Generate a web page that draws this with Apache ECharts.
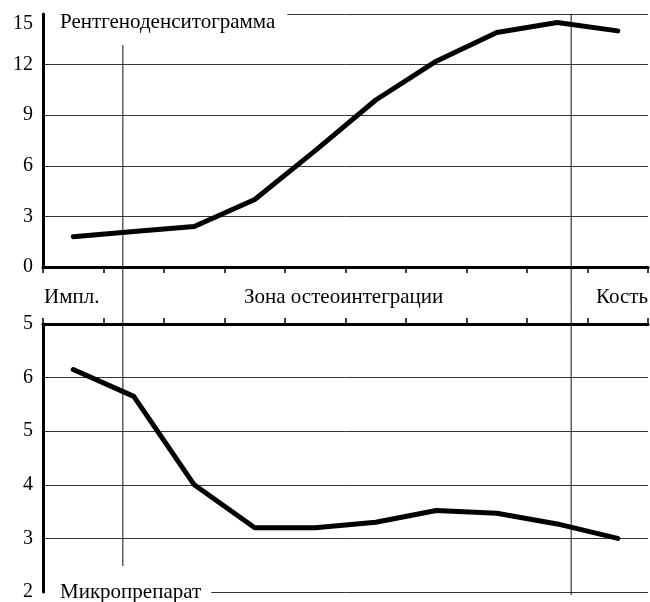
<!DOCTYPE html>
<html><head><meta charset="utf-8">
<script src="https://cdn.jsdelivr.net/npm/echarts@6/dist/echarts.min.js"></script>
<style>html,body{margin:0;padding:0;background:#fff}#c{width:650px;height:602px}</style>
</head><body><div id="c"></div>
<script>
const categories = ['1','2','3','4','5','6','7','8','9','10'];
const densitogram = [1.8, 2.1, 2.4, 4.0, 6.9, 9.9, 12.2, 13.9, 14.5, 14.0];
const micro = [6.15, 5.65, 4.0, 3.2, 3.2, 3.3, 3.52, 3.47, 3.27, 3.0];
const bottomTickLabels = {2:'2', 3:'3', 4:'4', 5:'5', 6:'6', 7:'5'};
const zoneLabels = ['Импл.', 'Зона остеоинтеграции', 'Кость'];
const zoneBounds = [1.32, 8.73];
const titles = ['Рентгеноденситограмма', 'Микропрепарат'];

const FONT = 'Liberation Serif';
const L = 43, W = 605;
const chart = echarts.init(document.getElementById('c'), null, {renderer: 'canvas'});

const axisLineStyle = {show: true, lineStyle: {color: '#000', width: 3}};
const tickStyle = {show: true, length: 6, lineStyle: {color: '#000', width: 1.5}};
const gridLine = {show: true, lineStyle: {color: '#333', width: 1}};
const labelStyle = {color: '#000', fontFamily: FONT, fontSize: 20, margin: 10};
const txtFont = '21px "' + FONT + '"';

function bx(b) { return L + b * W / categories.length; }

chart.setOption({
  animation: false,
  backgroundColor: '#fff',
  title: [
    {text: titles[0], left: 45, top: 11, padding: [1, 12, 1, 15], backgroundColor: '#fff',
     textStyle: {fontFamily: FONT, fontSize: 21, fontWeight: 'normal', color: '#000'}},
    {text: titles[1], left: 45, top: 581, padding: [1, 10, 1, 15], backgroundColor: '#fff',
     textStyle: {fontFamily: FONT, fontSize: 21, fontWeight: 'normal', color: '#000'}}
  ],
  grid: [
    {left: L, width: W, top: 14, height: 253},
    {left: L, width: W, top: 324, height: 271}
  ],
  xAxis: [
    {type: 'category', gridIndex: 0, data: categories, boundaryGap: true, position: 'bottom',
     axisLine: axisLineStyle, axisTick: tickStyle, axisLabel: {show: false}, splitLine: {show: false}},
    {type: 'category', gridIndex: 1, data: categories, boundaryGap: true, position: 'top',
     axisLine: axisLineStyle, axisTick: tickStyle, axisLabel: {show: false}, splitLine: {show: false}}
  ],
  yAxis: [
    {type: 'value', gridIndex: 0, min: 0, max: 15, interval: 3,
     axisLine: axisLineStyle, axisTick: {show: false},
     axisLabel: Object.assign({}, labelStyle, {verticalAlignMaxLabel: 'top'}), splitLine: gridLine},
    {type: 'value', gridIndex: 1, min: 2, max: 7, interval: 1,
     axisLine: axisLineStyle, axisTick: {show: false},
     axisLabel: Object.assign({}, labelStyle, {formatter: v => bottomTickLabels[v]}), splitLine: gridLine}
  ],
  series: [
    {type: 'line', xAxisIndex: 0, yAxisIndex: 0, data: densitogram, symbol: 'none',
     lineStyle: {color: '#000', width: 5, cap: 'round', join: 'round'}, z: 5},
    {type: 'line', xAxisIndex: 1, yAxisIndex: 1, data: micro, symbol: 'none',
     lineStyle: {color: '#000', width: 5, cap: 'round', join: 'round'}, z: 5}
  ],
  graphic: [
    {type: 'line', shape: {x1: bx(zoneBounds[0]), y1: 45, x2: bx(zoneBounds[0]), y2: 566},
     style: {stroke: '#111', lineWidth: 1}, z: 1},
    {type: 'line', shape: {x1: bx(zoneBounds[1]), y1: 14, x2: bx(zoneBounds[1]), y2: 595},
     style: {stroke: '#111', lineWidth: 1}, z: 1},
    {type: 'text', left: 44, top: 287, style: {text: zoneLabels[0], font: txtFont, fill: '#000'}},
    {type: 'text', left: 244, top: 287, style: {text: zoneLabels[1], font: txtFont, fill: '#000'}},
    {type: 'text', right: 2, top: 287, style: {text: zoneLabels[2], font: txtFont, fill: '#000'}}
  ]
});
</script></body></html>
